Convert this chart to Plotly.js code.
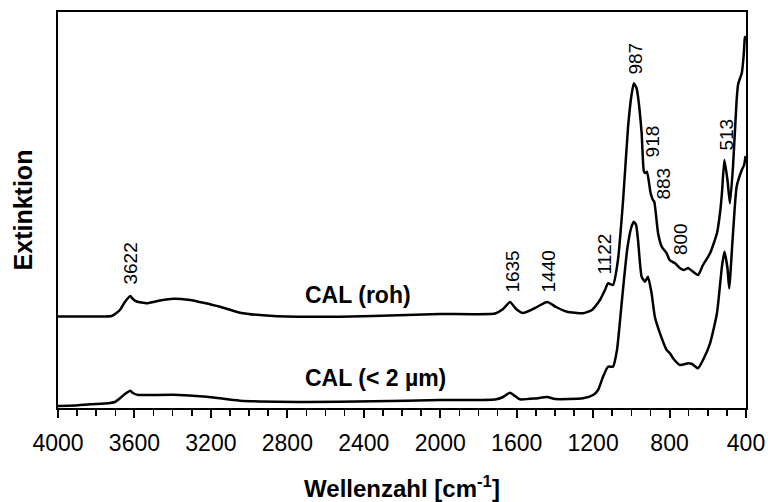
<!DOCTYPE html>
<html>
<head>
<meta charset="utf-8">
<script src="https://cdn.plot.ly/plotly-3.0.1.min.js"></script>
<style>html,body{margin:0;padding:0;background:#fff;}#chart{width:768px;height:502px;}</style>
</head>
<body>
<div id="chart"></div>
<script>
// Wavenumbers (cm^-1) and extinction (arbitrary units)
const wnRoh = [4000,3833,3719,3676,3650,3622,3608,3588,3536,3466,3397,3309,3240,3152,3048,2873,2524,2175,2001,1713,1671,1635,1603,1567,1504,1440,1394,1337,1253,1206,1164,1138,1122,1096,1070,1043,1017,999,987,973,965,946,934,926,918,899,887,880,860,841,815,800,771,745,724,703,682,651,625,588,552,536,526,513,497,484,468,449,441,422,412,406,402];
const extRoh = [91.5,91.5,92,98,106,112,109,106.5,104.7,107.5,109.3,108,105.3,101.3,95.3,92,91.3,93,94,94.5,99,106,99,95,100,106,101,96.3,94.7,98,108,118,124.7,123,148,208,281.3,313,324.7,320,311.3,274.7,236.3,235,236.3,214.7,208,206.3,174.7,161.3,154.7,148,144.7,139.7,138,140,137,133,143,154.7,174.7,195,214.7,248,228,204.7,241.3,308,324,335,353,370,372];

const wnFine = [4000,3911,3833,3737,3702,3676,3650,3622,3608,3580,3519,3397,3222,3048,2699,2350,2001,1713,1671,1635,1609,1583,1504,1440,1399,1253,1200,1174,1148,1122,1096,1075,1049,1022,1001,987,975,965,946,928,913,894,877,850,815,798,782,745,703,682,651,625,588,552,526,513,497,488,468,449,422,410,402];
const extFine = [2,2.5,3.7,4.7,6,9.7,14,17.3,15,13,13,13.3,11.3,7.3,6,6.7,8,8.5,11,15.3,12,8.7,9.5,11,9,9.7,13,18,31.3,41.3,41.3,58,108,158,180,186.3,183,168,131.3,126.3,131.3,114.7,91.3,74.7,58,54.7,49.7,43,44.7,44,39.7,48,64.7,94.7,141.3,156.3,140,119.7,174.7,221.3,238,243,252];

// Band labels
const bandLabels = ["3622","1635","1440","1122","987","918","883","800","513"];
const bandWn =     [3623, 1624, 1431, 1143, 983, 887, 834, 745, 507];
const bandExt =    [144.5,136.5,136.5,153.5,349,266.5,224.5,169,273];

// Series labels
const seriesNames = ["CAL (roh)","CAL (< 2 µm)"];
const seriesLabelWn = [2430, 2341];
const seriesLabelExt = [113, 30];

const FONT = "'Liberation Sans', Arial, sans-serif";
const lineStyle = {color:'black', width:2.5, shape:'spline', smoothing:0.5};

const traces = [
  {x: wnRoh, y: extRoh, type:'scatter', mode:'lines', line: lineStyle, name: seriesNames[0], hoverinfo:'x+name'},
  {x: wnFine, y: extFine, type:'scatter', mode:'lines', line: lineStyle, name: seriesNames[1], hoverinfo:'x+name'}
];

const annotations = bandLabels.map((t,i)=>({
  x: bandWn[i], y: bandExt[i], xref:'x', yref:'y', text: t, showarrow:false,
  textangle:-90, xanchor:'center', yanchor:'middle',
  font:{family:FONT, size:19, color:'black'}
})).concat(seriesNames.map((t,i)=>({
  x: seriesLabelWn[i], y: seriesLabelExt[i], xref:'x', yref:'y', text:'<b>'+t+'</b>', showarrow:false,
  xanchor:'center', yanchor:'middle',
  font:{family:FONT, size:23, color:'black'}
})));

const layout = {
  width:768, height:502,
  margin:{l:58, r:22, t:12, b:94},
  paper_bgcolor:'white', plot_bgcolor:'white',
  showlegend:false,
  font:{family:FONT, color:'black'},
  xaxis:{
    range:[4000,400], tick0:400, dtick:400,
    ticks:'outside', ticklen:8, tickwidth:2, tickcolor:'black',
    minor:{dtick:100, ticks:'outside', ticklen:6, tickwidth:1.5, tickcolor:'black'},
    showline:true, linewidth:2, linecolor:'black', mirror:true,
    showgrid:false, zeroline:false,
    ticklabelstandoff:5,
    tickfont:{family:FONT, size:23, color:'black'},
    title:{text:'<b>Wellenzahl [cm<sup>-1</sup>]</b>', font:{family:FONT, size:24, color:'black'}, standoff:28}
  },
  yaxis:{
    range:[0,396], showticklabels:false, ticks:'',
    showline:true, linewidth:2, linecolor:'black', mirror:true,
    showgrid:false, zeroline:false,
    title:{text:'<b>Extinktion</b>', font:{family:FONT, size:25, color:'black'}, standoff:16}
  },
  annotations: annotations
};

Plotly.newPlot('chart', traces, layout, {displayModeBar:false, staticPlot:true});
</script>
</body>
</html>
